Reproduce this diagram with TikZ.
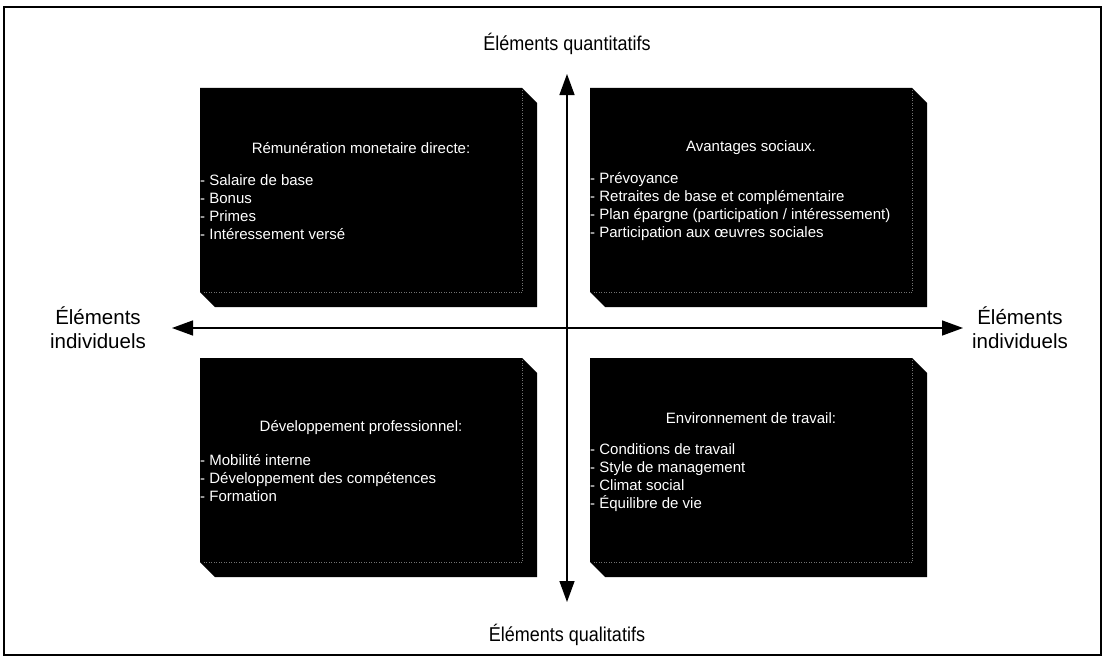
\documentclass[tikz,border=0pt]{standalone}
\usepackage{fontspec}
\setmainfont{Liberation Sans}
\newfontfamily\axisfont[FakeStretch=0.9]{Liberation Sans}
\usetikzlibrary{arrows.meta}

% one quadrant panel: black front face (322 x 204) extruded 15 to the lower right
\newcommand\quadpanel[2]{%
  \fill[panel] (#1,#2) -- ++(322,0) -- ++(15,15) -- ++(0,204) -- ++(-322,0) -- ++(-15,-15) -- cycle;
  \draw[faceedge] (#1+322,#2+2) -- (#1+322,#2+204) -- (#1+2,#2+204);
}

\begin{document}
\begin{tikzpicture}[x=1pt,y=-1pt,
  panel/.style={fill=black},
  faceedge/.style={draw=white!45!black,dotted,line width=0.5pt},
  boxtitle/.style={text=white,font=\fontsize{15}{18}\selectfont,inner sep=0pt},
  boxlist/.style={text=white,font=\fontsize{15}{18}\selectfont,align=left,inner sep=0pt,anchor=west},
  axislabel/.style={font=\axisfont\fontsize{20}{24}\selectfont,inner sep=0pt},
  sidelabel/.style={font=\fontsize{20.5}{24}\selectfont,align=center,inner sep=0pt},
  axisline/.style={line width=1.4pt,{Triangle[length=21pt,width=15pt]}-{Triangle[length=21pt,width=15pt]}}]

\useasboundingbox (0,0) rectangle (1106,661);
\draw[line width=1.2pt] (4,7) rectangle (1101,655);

% quadrant panels
\quadpanel{200}{88}
\quadpanel{590}{88}
\quadpanel{200}{358}
\quadpanel{590}{358}

\node[boxtitle] (t1) at (361,148) {Rémunération monetaire directe:};
\node[boxlist]  (l1) at (200,207) {- Salaire de base\\- Bonus\\- Primes\\- Intéressement versé};

\node[boxtitle] (t2) at (751,148) {Avantages sociaux.};
\node[boxlist]  (l2) at (590,207) {- Prévoyance\\- Retraites de base et complémentaire\\- Plan épargne (participation / intéressement)\\- Participation aux œuvres sociales};

\node[boxtitle] (t3) at (361,428) {Développement professionnel:};
\node[boxlist]  (l3) at (200,478) {- Mobilité interne\\- Développement des compétences\\- Formation};

\node[boxtitle] (t4) at (751,418) {Environnement de travail:};
\node[boxlist]  (l4) at (590,478) {- Conditions de travail\\- Style de management\\- Climat social\\- Équilibre de vie};

% axes
\coordinate (ytop) at (567,74);
\coordinate (ybot) at (567,602);
\coordinate (xleft) at (172,328);
\coordinate (xright) at (963,328);
\draw[axisline] (ytop) -- (ybot);
\draw[axisline] (xleft) -- (xright);

\node[axislabel] (qt) at (567,44) {Éléments quantitatifs};
\node[axislabel] (ql) at (567,635) {Éléments qualitatifs};
\node[sidelabel] (il) at (98,328) {Éléments\\individuels};
\node[sidelabel] (ir) at (1020,328) {Éléments\\individuels};
\end{tikzpicture}
\end{document}
